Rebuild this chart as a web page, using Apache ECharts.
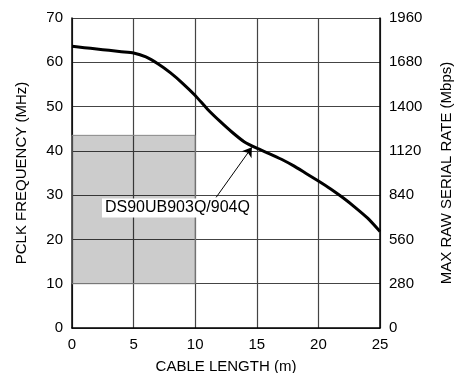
<!DOCTYPE html>
<html>
<head>
<meta charset="utf-8">
<script src="https://cdn.jsdelivr.net/npm/echarts@6/dist/echarts.min.js"></script>
<style>html,body{margin:0;padding:0;background:#fff;}#c{width:454px;height:373px;}</style>
</head>
<body>
<div id="c"></div>
<script>
const cableLength = [0,1,2,3,4,5,6,7,8,9,10,11,12,13,14,15,16,17,18,19,20,21,22,23,24,25];
const pclkFreq = [63.6,63.3,63.0,62.7,62.4,62.1,61.2,59.6,57.6,55.2,52.5,49.4,46.7,44.2,42.0,40.6,39.4,38.1,36.6,34.9,33.2,31.4,29.4,27.2,24.8,21.8];
const regionX = [0, 10];
const regionY = [10, 43.5];
const labelText = 'DS90UB903Q/904Q';
const labelPos = [8.56, 27.1];
const arrowFrom = [11.7, 29.5];
const arrowTo = [14.6, 40.8];

const FONT = "'Liberation Sans', Arial, sans-serif";
const chart = echarts.init(document.getElementById('c'), null, {renderer: 'canvas'});
chart.setOption({
  animation: false,
  backgroundColor: '#fff',
  grid: {left: 72, right: 74, top: 18, bottom: 45, containLabel: false, outerBoundsMode: 'none'},
  xAxis: {
    type: 'value', min: 0, max: 25, interval: 5,
    name: 'CABLE LENGTH (m)', nameLocation: 'middle', nameGap: 31,
    nameTextStyle: {fontFamily: FONT, fontSize: 15, color: '#000'},
    axisLine: {show: true, lineStyle: {color: '#000', width: 1.5}},
    axisTick: {show: false},
    axisLabel: {fontFamily: FONT, fontSize: 15, color: '#000', margin: 9},
    splitLine: {show: true, lineStyle: {color: '#444', width: 1.2}}
  },
  yAxis: [{
    type: 'value', min: 0, max: 70, interval: 10, position: 'left',
    name: 'PCLK FREQUENCY (MHz)', nameLocation: 'middle', nameGap: 43, nameRotate: 90,
    nameTextStyle: {fontFamily: FONT, fontSize: 15, color: '#000'},
    axisLine: {show: true, lineStyle: {color: '#000', width: 1.5}},
    axisTick: {show: false},
    axisLabel: {fontFamily: FONT, fontSize: 15, color: '#000', margin: 9},
    splitLine: {show: true, lineStyle: {color: '#444', width: 1.2}}
  }, {
    type: 'value', min: 0, max: 1960, interval: 280, position: 'right',
    name: 'MAX RAW SERIAL RATE (Mbps)', nameLocation: 'middle', nameGap: 59, nameRotate: 90,
    nameTextStyle: {fontFamily: FONT, fontSize: 15, color: '#000'},
    axisLine: {show: true, lineStyle: {color: '#000', width: 1.5}},
    axisTick: {show: false},
    axisLabel: {fontFamily: FONT, fontSize: 15, color: '#000', margin: 9, formatter: v => String(v)},
    splitLine: {show: false}
  }],
  series: [{
    type: 'line',
    data: cableLength.map((x, i) => [x, pclkFreq[i]]),
    smooth: 0.2,
    showSymbol: false,
    lineStyle: {color: '#000', width: 3},
    z: 3,
    markArea: {
      silent: true,
      itemStyle: {color: 'rgba(0,0,0,0.2)', borderColor: '#888', borderWidth: 1},
      data: [[{coord: [regionX[0], regionY[0]]}, {coord: [regionX[1], regionY[1]]}]]
    },
    markLine: {
      silent: true,
      symbol: ['none', 'arrow'],
      symbolSize: 9,
      label: {show: false},
      lineStyle: {color: '#000', width: 1, type: 'solid'},
      data: [[{coord: arrowFrom}, {coord: arrowTo}]]
    },
    markPoint: {
      silent: true,
      symbol: 'rect',
      symbolSize: 1,
      itemStyle: {color: 'rgba(0,0,0,0)'},
      label: {
        show: true, position: 'inside', formatter: labelText,
        fontFamily: FONT, fontSize: 16, color: '#000',
        backgroundColor: '#fff', padding: [2, 3, 1, 3]
      },
      data: [{coord: labelPos}]
    }
  }]
});
</script>
</body>
</html>
